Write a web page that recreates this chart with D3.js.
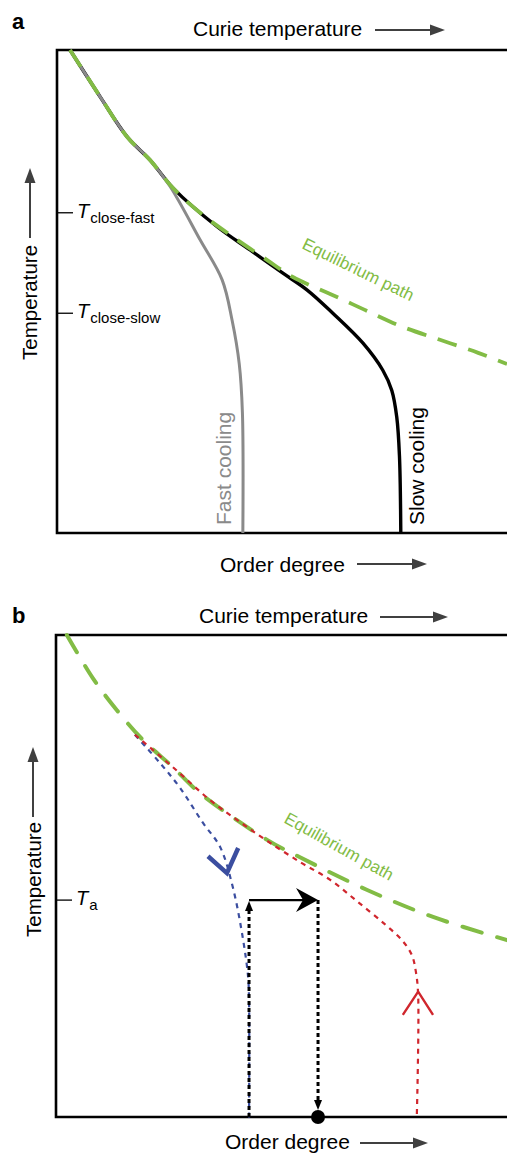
<!DOCTYPE html>
<html><head><meta charset="utf-8">
<script src="https://cdn.jsdelivr.net/npm/d3@7"></script>
<style>
body{margin:0;background:#fff}
svg{display:block}
text{font-family:"Liberation Sans",Arial,Helvetica,sans-serif}
</style>
</head><body>
<script>
// values in chart units: x = order degree (0-100), y = temperature (0-100)
// panel a
var eqA = [[2.9,100],[9.6,90.3],[15.6,82],[20.7,77.2],[25.8,71.4],[31.8,66.3],[39.1,61.3],[46.7,56.5],
           [52.4,53],[60.7,49.5],[68.4,46.2],[76.2,42.9],[85.1,40],[93.6,37.3],[100,35]];
var fastA = [[2.9,100],[9.6,90.3],[15.6,82],[20.7,77.2],[25.1,71.8],[31.8,60.7],[36.7,52.4],
             [38.9,44.1],[40.5,35],[41.2,25],[41.3,0]];
var slowA = [[2.9,100],[9.6,90.3],[15.6,82],[20.7,77.2],[25.8,71.4],[35.6,63.4],[42.9,58.6],[50.2,53.8],
             [55.6,50.3],[61.3,45.5],[68,39.3],[72.4,33.7],[74.4,29.5],[75.5,24],[76.1,16],[76.4,0]];
var ticksA = [{sub:"close-fast", t:66.3},{sub:"close-slow", t:45.5}];

// panel b
var eqB = [[2.4,100],[8.2,91],[13.5,84.4],[19.3,78.2],[25.9,72.6],[31.9,67.2],[46.8,57.5],[54.1,53.9],
           [69,47.1],[83.6,41.5],[100,36.7]];
var redB = [[17.5,79.3],[25.9,72.6],[34.1,65.8],[40.8,61.2],[46.8,57.3],[54.1,52.9],[60.8,49.2],[66.7,44.8],
            [72.9,40],[76.7,36.7],[78.9,33.6],[79.8,30.1],[80.3,25.3],[80,0]];
var blueB = [[17.5,79.3],[23.1,73.4],[27.5,68.3],[32.6,61],[36.4,56],[39.2,47.7],[41.5,36.7],[42.6,29],
             [42.8,24.3],[42.8,-1]];
var blueHead = [[33.7,54.1],[37.9,50.6],[40.4,55.8]];
var redHead = [[76.9,21.2],[80.3,26],[83.6,21.2]];
var Ta = 45, orderStart = 42.8, orderEnd = 58.1;
var ticksB = [{sub:"a", t:Ta}];

var GREEN = "#82bc45", GRAY = "#8a8a8a", RED = "#d0262d", BLUE = "#3b4ea0", ARROW = "#404040";

var svg = d3.select("body").append("svg").attr("width", 507).attr("height", 1154);

function panel(o) {
  var x = d3.scaleLinear().domain([0,100]).range([o.left, 507]);
  var y = d3.scaleLinear().domain([0,100]).range([o.bottom, o.top]);
  var g = svg.append("g");

  // frame (right side runs off the page)
  g.append("path")
    .attr("d", "M515," + o.top + "H" + o.left + "V" + o.bottom + "H515")
    .attr("fill", "none").attr("stroke", "#000").attr("stroke-width", 2.6);

  g.append("text").attr("x", 12).attr("y", o.letterY).text(o.letter)
    .style("font-weight", "bold").style("font-size", "22px");

  function hArrow(x1, x2, yy) {
    g.append("line").attr("x1", x1).attr("x2", x2 - 10).attr("y1", yy).attr("y2", yy)
      .attr("stroke", ARROW).attr("stroke-width", 2);
    g.append("path").attr("d", "M" + x2 + "," + yy + "L" + (x2 - 15) + "," + (yy - 5.5) + "L" + (x2 - 15) + "," + (yy + 5.5) + "Z")
      .attr("fill", ARROW);
  }
  function vArrow(xx, y1, y2) {
    g.append("line").attr("x1", xx).attr("x2", xx).attr("y1", y1).attr("y2", y2 + 10)
      .attr("stroke", ARROW).attr("stroke-width", 2);
    g.append("path").attr("d", "M" + xx + "," + y2 + "L" + (xx - 5.5) + "," + (y2 + 15) + "L" + (xx + 5.5) + "," + (y2 + 15) + "Z")
      .attr("fill", ARROW);
  }

  g.append("text").attr("x", o.curie[0]).attr("y", o.curie[1]).text("Curie temperature").style("font-size", "21px");
  hArrow(o.curieArrow[0], o.curieArrow[1], o.curieArrow[2]);
  g.append("text").attr("x", o.order[0]).attr("y", o.order[1]).text("Order degree").style("font-size", "21px");
  hArrow(o.orderArrow[0], o.orderArrow[1], o.orderArrow[2]);
  g.append("text").attr("transform", "translate(" + o.temp[0] + "," + o.temp[1] + ") rotate(-90)")
    .text("Temperature").style("font-size", "20.5px");
  vArrow(o.tempArrow[0], o.tempArrow[1], o.tempArrow[2]);

  // ticks with T labels
  o.ticks.forEach(function(d) {
    var ty = y(d.t);
    g.append("line").attr("x1", o.left).attr("x2", o.left + 16).attr("y1", ty).attr("y2", ty)
      .attr("stroke", "#000").attr("stroke-width", 1.3);
    var t = g.append("text").attr("x", o.left + 20).attr("y", ty + 5);
    t.append("tspan").text("T").style("font-style", "italic").style("font-size", "20px");
    t.append("tspan").attr("dx", 1).attr("dy", 5).text(d.sub).style("font-size", "15px");
  });
  return {g: g, x: x, y: y};
}

var line = function(p, curve) {
  return d3.line().x(function(d){ return p.x(d[0]); }).y(function(d){ return p.y(d[1]); })
    .curve(curve || d3.curveCatmullRom.alpha(0.5));
};

// ---------- panel a ----------
var pa = panel({
  left: 57, top: 50, bottom: 533, letter: "a", letterY: 29,
  curie: [193, 36], curieArrow: [375, 445, 30],
  order: [220, 572], orderArrow: [357, 427, 564],
  temp: [37, 360], tempArrow: [30, 238, 168],
  ticks: ticksA
});

pa.g.append("path").attr("d", line(pa)(slowA)).attr("fill", "none")
  .attr("stroke", "#000").attr("stroke-width", 3.4);
pa.g.append("path").attr("d", line(pa)(fastA)).attr("fill", "none")
  .attr("stroke", GRAY).attr("stroke-width", 3);
pa.g.append("path").attr("d", line(pa)(eqA)).attr("fill", "none")
  .attr("stroke", GREEN).attr("stroke-width", 3.8).attr("stroke-dasharray", "20,12");

pa.g.append("text").attr("transform", "translate(301,248) rotate(26)")
  .text("Equilibrium path").style("font-size", "17px").attr("fill", GREEN);
pa.g.append("text").attr("transform", "translate(231,525) rotate(-90)")
  .text("Fast cooling").style("font-size", "21px").attr("fill", GRAY);
pa.g.append("text").attr("transform", "translate(424,525) rotate(-90)")
  .text("Slow cooling").style("font-size", "21px").attr("fill", "#000");

// ---------- panel b ----------
var pb = panel({
  left: 56, top: 635, bottom: 1117, letter: "b", letterY: 623,
  curie: [199, 623], curieArrow: [380, 448, 617],
  order: [225, 1149], orderArrow: [360, 428, 1143],
  temp: [41, 937], tempArrow: [33, 817, 747],
  ticks: ticksB
});

pb.g.append("path").attr("d", line(pb)(eqB)).attr("fill", "none")
  .attr("stroke", GREEN).attr("stroke-width", 4).attr("stroke-linecap", "round")
  .attr("stroke-dasharray", "20,16");
pb.g.append("path").attr("d", line(pb)(blueB)).attr("fill", "none")
  .attr("stroke", BLUE).attr("stroke-width", 2.2).attr("stroke-dasharray", "5,5");
pb.g.append("path").attr("d", line(pb)(redB)).attr("fill", "none")
  .attr("stroke", RED).attr("stroke-width", 2.2).attr("stroke-dasharray", "5,5");

pb.g.append("path").attr("d", line(pb, d3.curveLinear)(blueHead)).attr("fill", "none")
  .attr("stroke", BLUE).attr("stroke-width", 4.5);
pb.g.append("path").attr("d", line(pb, d3.curveLinear)(redHead)).attr("fill", "none")
  .attr("stroke", RED).attr("stroke-width", 2.4);

// annealing arrows
var xs = pb.x(orderStart), xe = pb.x(orderEnd), ya = pb.y(Ta), y0 = pb.y(0);
pb.g.append("line").attr("x1", xs).attr("x2", xs).attr("y1", y0).attr("y2", ya + 8)
  .attr("stroke", "#000").attr("stroke-width", 3).attr("stroke-dasharray", "4,3");
pb.g.append("path").attr("d", "M" + xs + "," + (ya + 1) + "L" + (xs - 4) + "," + (ya + 11) + "L" + (xs + 4) + "," + (ya + 11) + "Z")
  .attr("fill", "#000");
pb.g.append("line").attr("x1", xs).attr("x2", xe - 14).attr("y1", ya).attr("y2", ya)
  .attr("stroke", "#000").attr("stroke-width", 2.4);
pb.g.append("path").attr("d", "M" + xe + "," + ya + "L" + (xe - 22) + "," + (ya - 12) + "L" + (xe - 15) + "," + ya + "L" + (xe - 22) + "," + (ya + 12) + "Z")
  .attr("fill", "#000");
pb.g.append("line").attr("x1", xe).attr("x2", xe).attr("y1", ya).attr("y2", y0 - 14)
  .attr("stroke", "#000").attr("stroke-width", 3).attr("stroke-dasharray", "4,3");
pb.g.append("path").attr("d", "M" + xe + "," + (y0 - 7) + "L" + (xe - 4) + "," + (y0 - 17) + "L" + (xe + 4) + "," + (y0 - 17) + "Z")
  .attr("fill", "#000");
pb.g.append("circle").attr("cx", xe).attr("cy", y0).attr("r", 7).attr("fill", "#000");

pb.g.append("text").attr("transform", "translate(283,822) rotate(29)")
  .text("Equilibrium path").style("font-size", "17px").attr("fill", GREEN);
</script>
</body></html>
